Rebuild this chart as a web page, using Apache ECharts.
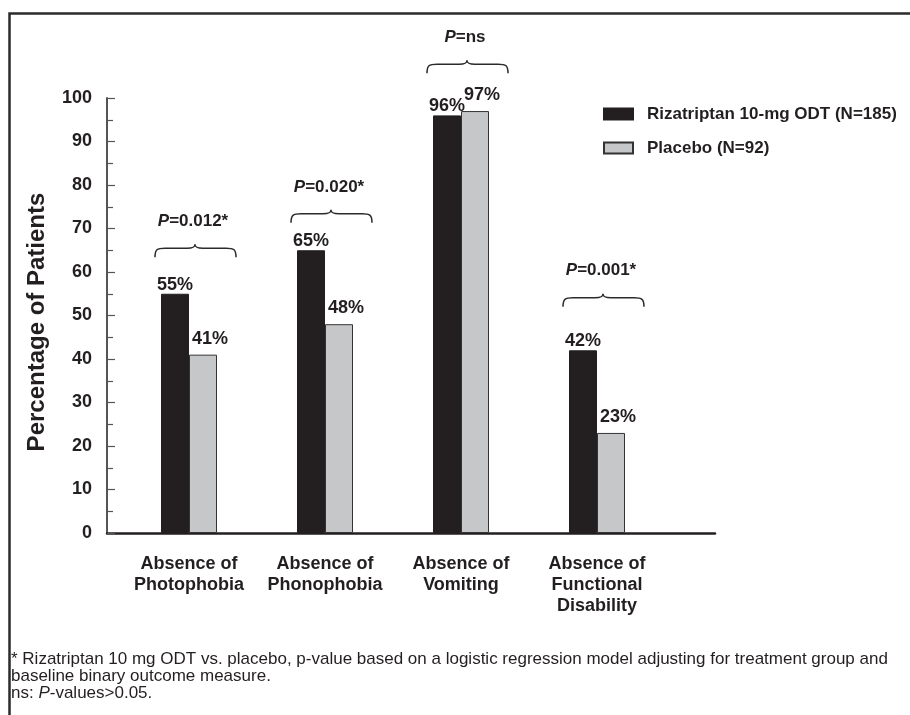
<!DOCTYPE html>
<html>
<head>
<meta charset="utf-8">
<script src="https://cdn.jsdelivr.net/npm/echarts@6/dist/echarts.min.js"></script>
<style>
html,body{margin:0;padding:0;background:#fff;}
#chart{width:910px;height:715px;}
</style>
</head>
<body>
<div id="chart"></div>
<script>
// ---- data ----
const categories = ['Absence of\nPhotophobia', 'Absence of\nPhonophobia', 'Absence of\nVomiting', 'Absence of\nFunctional\nDisability'];
const rizatriptan = [55, 65, 96, 42];
const placebo = [41, 48, 97, 23];
const seriesNames = ['Rizatriptan 10-mg ODT (N=185)', 'Placebo (N=92)'];
const pValues = ['=0.012*', '=0.020*', '=ns', '=0.001*'];
const braceLevels = [63.4, 71.3, 105.7, 52];   // height of the brace ends, in axis units
const yTicks = [0, 10, 20, 30, 40, 50, 60, 70, 80, 90, 100];
const footnotes = [
  '* Rizatriptan 10 mg ODT vs. placebo, p-value based on a logistic regression model adjusting for treatment group and',
  'baseline binary outcome measure.',
  ['ns: ', 'P', '-values>0.05.']
];

const FONT = '"Liberation Sans", Arial, Helvetica, sans-serif';
const INK = '#231f20';
const FOOT = 17;

const chart = echarts.init(document.getElementById('chart'), null, {renderer: 'canvas'});

const braceData = braceLevels.map((v, i) => [i, v, pValues[i]]);

const option = {
  backgroundColor: '#fff',
  animation: false,
  textStyle: {fontFamily: FONT, color: INK},
  grid: [
    {left: 107, top: 98, width: 608, height: 435, containLabel: false},
    {left: 121, top: 98, width: 544, height: 435, containLabel: false}
  ],
  xAxis: [
    {
      gridIndex: 0, type: 'value', min: 0, max: 1,
      axisLine: {show: true, onZero: false, lineStyle: {color: INK, width: 2.5}},
      axisTick: {show: false}, axisLabel: {show: false}, splitLine: {show: false}
    },
    {
      gridIndex: 1, type: 'category', data: categories,
      axisLine: {show: false}, axisTick: {show: false}, splitLine: {show: false},
      axisLabel: {
        interval: 0, margin: 21, color: INK, fontFamily: FONT,
        fontWeight: 'bold', fontSize: 18, lineHeight: 21
      }
    }
  ],
  yAxis: [
    {
      gridIndex: 0, type: 'value', min: yTicks[0], max: yTicks[yTicks.length - 1], interval: 10,
      name: 'Percentage of Patients', nameLocation: 'middle', nameGap: 58,
      nameTextStyle: {fontFamily: FONT, fontWeight: 'bold', fontSize: 24, color: INK, padding: [0, 13, 0, 0]},
      axisLine: {show: true, lineStyle: {color: '#555', width: 2}},
      axisTick: {show: true, inside: true, length: 8, lineStyle: {color: '#555', width: 1.2}},
      minorTick: {show: true, splitNumber: 2, length: 6, lineStyle: {color: '#555', width: 1.2}},
      axisLabel: {margin: 15, color: INK, fontFamily: FONT, fontWeight: 'bold', fontSize: 18},
      splitLine: {show: false}
    },
    {
      gridIndex: 1, type: 'value', min: 0, max: 100, show: false
    }
  ],
  legend: {
    data: seriesNames,
    orient: 'vertical', left: 598, top: 99,
    itemWidth: 29, itemHeight: 11, itemGap: 14,
    icon: 'rect',
    textStyle: {fontFamily: FONT, fontWeight: 'bold', fontSize: 17, color: INK, lineHeight: 20, padding: [0, 0, 0, 9]}
  },
  series: [
    {
      name: seriesNames[0], type: 'bar', xAxisIndex: 1, yAxisIndex: 1,
      data: rizatriptan, barWidth: 28, barGap: '0%',
      itemStyle: {color: INK, borderColor: INK, borderWidth: 1},
      label: {
        show: true, position: 'top', distance: 0, formatter: '{c}%',
        fontFamily: FONT, fontWeight: 'bold', fontSize: 18, color: INK
      }
    },
    {
      name: seriesNames[1], type: 'bar', xAxisIndex: 1, yAxisIndex: 1,
      data: placebo, barWidth: 28, barGap: '0%',
      itemStyle: {color: '#c6c7c9', borderColor: '#333', borderWidth: 1},
      label: {
        show: true, position: 'top', distance: 7, offset: [7, 0], formatter: '{c}%',
        fontFamily: FONT, fontWeight: 'bold', fontSize: 18, color: INK
      }
    },
    {
      name: 'braces', type: 'custom', xAxisIndex: 1, yAxisIndex: 1,
      data: braceData, encode: {x: 0, y: 1}, clip: false, silent: true, z: 5,
      renderItem: function (params, api) {
        const idx = api.value(0);
        const lvl = api.value(1);
        const c = api.coord([idx, lvl]);
        const cx = c[0] + 6;
        const yb = c[1];
        const ym = yb - 9;
        const yt = yb - 13;
        const x0 = cx - 40, x1 = cx + 41;
        const path =
          'M' + x0 + ' ' + yb +
          ' C' + x0 + ' ' + (ym + 1) + ' ' + (x0 + 2) + ' ' + ym + ' ' + (x0 + 10) + ' ' + ym +
          ' L' + (cx - 8) + ' ' + ym +
          ' C' + (cx - 2) + ' ' + ym + ' ' + cx + ' ' + (ym - 1) + ' ' + cx + ' ' + yt +
          ' C' + cx + ' ' + (ym - 1) + ' ' + (cx + 2) + ' ' + ym + ' ' + (cx + 8) + ' ' + ym +
          ' L' + (x1 - 10) + ' ' + ym +
          ' C' + (x1 - 2) + ' ' + ym + ' ' + x1 + ' ' + (ym + 1) + ' ' + x1 + ' ' + yb;
        const txt = braceData[params.dataIndex][2];
        return {
          type: 'group',
          children: [
            {type: 'path', shape: {pathData: path}, style: {fill: 'none', stroke: '#2b2b2b', lineWidth: 1.5}},
            {
              type: 'text', x: c[0] + 4, y: yb - 36,
              style: {
                text: '{i|P}{n|' + txt + '}',
                align: 'center', verticalAlign: 'middle',
                rich: {
                  i: {fontFamily: FONT, fontStyle: 'italic', fontWeight: 'bold', fontSize: 17, fill: INK},
                  n: {fontFamily: FONT, fontWeight: 'bold', fontSize: 17, fill: INK}
                }
              }
            }
          ]
        };
      }
    }
  ],
  graphic: [
    {
      type: 'rect', left: 7, top: 11, silent: true,
      shape: {width: 920, height: 720},
      style: {fill: 'none', stroke: '#2b2b2b', lineWidth: 2.5}
    },
    {
      type: 'text', left: 11, top: 651, silent: true,
      style: {text: footnotes[0], font: FOOT + 'px ' + FONT, fill: INK}
    },
    {
      type: 'text', left: 11, top: 668, silent: true,
      style: {text: footnotes[1], font: FOOT + 'px ' + FONT, fill: INK}
    },
    {
      type: 'text', left: 11, top: 685, silent: true,
      style: {
        text: '{n|' + footnotes[2][0] + '}{i|' + footnotes[2][1] + '}{n|' + footnotes[2][2] + '}',
        rich: {
          n: {fontFamily: FONT, fontSize: FOOT, fill: INK},
          i: {fontFamily: FONT, fontSize: FOOT, fontStyle: 'italic', fill: INK}
        }
      }
    }
  ]
};

chart.setOption(option);
</script>
</body>
</html>
